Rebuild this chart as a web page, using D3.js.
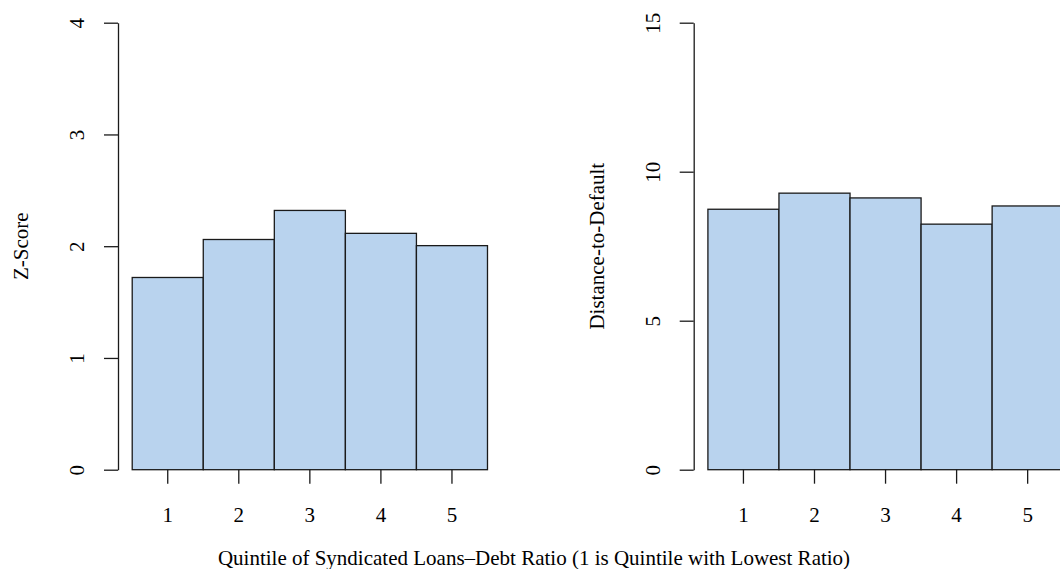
<!DOCTYPE html>
<html>
<head>
<meta charset="utf-8">
<script src="https://cdn.jsdelivr.net/npm/d3@7"></script>
<style>
    body { margin: 0; background: #fff; overflow: hidden; }
    svg { display: block; }
    text { font-family: 'Liberation Serif', 'Times New Roman', serif; fill: #000; }
</style>
</head>
<body>
<div id="chart"></div>
<script>
// Data
const quintiles = ['1', '2', '3', '4', '5'];
const zScore = [1.72, 2.06, 2.32, 2.115, 2.005];
const distToDefault = [8.74, 9.28, 9.12, 8.24, 8.85];
const zTicks = [0, 1, 2, 3, 4];
const ddTicks = [0, 5, 10, 15];
const xTitle = 'Quintile of Syndicated Loans\u2013Debt Ratio (1 is Quintile with Lowest Ratio)';

const width = 1060, height = 569;
const fontSize = '21px';
const lineColor = '#1a1a1a';

const svg = d3.select('#chart').append('svg')
    .attr('width', width)
    .attr('height', height);

class BarPanel {
    constructor(_config) {
        this.config = {
            left: _config.left,
            top: _config.top || 22.7,
            plotWidth: _config.plotWidth || 383.7,
            plotHeight: _config.plotHeight || 447,
            values: _config.values,
            ticks: _config.ticks,
            title: _config.title
        };
        this.initVis();
    }

    initVis() {
        let vis = this;
        const c = vis.config;

        vis.g = svg.append('g')
            .attr('transform', `translate(${c.left},${c.top})`);

        // R barplot: space = 0, xlim padded by 4% each side
        vis.xScale = d3.scaleBand()
            .domain(quintiles)
            .range([0, c.plotWidth])
            .paddingInner(0)
            .paddingOuter(0.2);

        vis.yScale = d3.scaleLinear()
            .domain([0, d3.max(c.ticks)])
            .range([c.plotHeight, 0]);

        vis.g.selectAll('.bar')
            .data(c.values)
            .join('rect')
            .attr('class', 'bar')
            .attr('x', (d, i) => vis.xScale(quintiles[i]))
            .attr('y', d => vis.yScale(d))
            .attr('width', vis.xScale.bandwidth())
            .attr('height', d => vis.yScale(0) - vis.yScale(d))
            .attr('fill', '#B9D3EE')
            .attr('stroke', lineColor)
            .attr('stroke-width', 1.3);

        const yAxis = d3.axisLeft(vis.yScale)
            .tickValues(c.ticks)
            .tickSize(14)
            .tickSizeOuter(0)
            .tickFormat(d3.format('d'));

        const yG = vis.g.append('g')
            .call(yAxis)
            .attr('font-family', 'Liberation Serif, serif')
            .attr('font-size', 21);
        yG.select('.domain').attr('stroke', lineColor).attr('stroke-width', 1.3);
        yG.selectAll('.tick line').attr('stroke', lineColor).attr('stroke-width', 1.3);
        yG.selectAll('.tick text')
            .attr('x', 0)
            .attr('y', 0)
            .attr('dy', 0)
            .attr('transform', 'translate(-34,0) rotate(-90)')
            .attr('text-anchor', 'middle')
            .style('font-size', fontSize);

        const xAxis = d3.axisBottom(vis.xScale)
            .tickSize(14)
            .tickSizeOuter(0);

        const xG = vis.g.append('g')
            .attr('transform', `translate(0,${c.plotHeight})`)
            .call(xAxis)
            .attr('font-family', 'Liberation Serif, serif')
            .attr('font-size', 21);
        xG.select('.domain').remove();
        xG.selectAll('.tick line').attr('stroke', lineColor).attr('stroke-width', 1.3);
        xG.selectAll('.tick text')
            .attr('y', 52)
            .attr('dy', 0)
            .style('font-size', fontSize);

        // y axis title
        vis.g.append('text')
            .attr('transform', `translate(-90,${c.plotHeight / 2}) rotate(-90)`)
            .attr('text-anchor', 'middle')
            .style('font-size', fontSize)
            .text(c.title);
    }
}

new BarPanel({ left: 118, values: zScore, ticks: zTicks, title: 'Z-Score' });
new BarPanel({ left: 693.7, values: distToDefault, ticks: ddTicks, title: 'Distance-to-Default' });

svg.append('text')
    .attr('x', 534)
    .attr('y', 565)
    .attr('text-anchor', 'middle')
    .style('font-size', fontSize)
    .text(xTitle);
</script>
</body>
</html>
